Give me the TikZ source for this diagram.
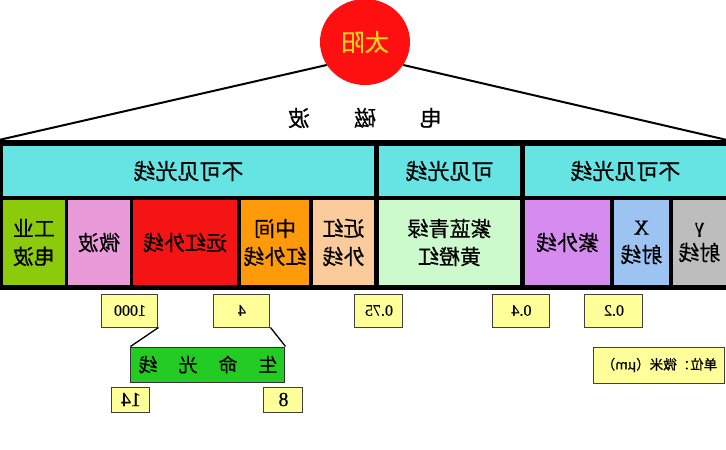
\documentclass[tikz,border=0pt]{standalone}
\usepackage{fontspec}
\newfontfamily\cjk{Noto Sans CJK SC}[FakeBold=0.5]
\newfontfamily\numfont{Liberation Serif}[FakeBold=0.6]
\usetikzlibrary{shapes.geometric}

\definecolor{bandcyan}{HTML}{66E3E3}
\definecolor{graycell}{HTML}{BDBDBD}
\definecolor{xraycell}{HTML}{9CC3F2}
\definecolor{uvcell}{HTML}{D58CEE}
\definecolor{vislight}{HTML}{CCFACC}
\definecolor{nircell}{HTML}{FBCB9B}
\definecolor{mircell}{HTML}{FF9A0A}
\definecolor{fircell}{HTML}{F41414}
\definecolor{microcell}{HTML}{E89BD8}
\definecolor{radiocell}{HTML}{8CCB0A}
\definecolor{valyellow}{HTML}{FFFF99}
\definecolor{lifegreen}{HTML}{22CC22}
\definecolor{sunred}{HTML}{FF1010}
\definecolor{sunyellow}{HTML}{FFD21A}

\begin{document}
\begin{tikzpicture}[x=1pt,y=-1pt,xscale=-1,
  every node/.append style={transform shape,inner sep=0pt,align=center},
  head/.style={fill=bandcyan,minimum height=50,font=\cjk\fontsize{22}{26}\selectfont},
  cell/.style={minimum height=85,font=\cjk\fontsize{21}{28}\selectfont},
  val/.style={draw=black!75,line width=1pt,fill=valyellow,minimum height=33,
    font=\numfont\fontsize{16}{18}\selectfont},
  small/.style={draw=black!75,line width=1pt,fill=valyellow,minimum height=25,
    font=\numfont\fontsize{20}{20}\selectfont}]
\useasboundingbox (0,0) rectangle (726,450);

% sun and the spectrum band
\node[ellipse,fill=sunred,minimum width=90,minimum height=86,
  text=sunyellow,font=\cjk\fontsize{24}{26}\selectfont] (sun) at (361,42) {太阳};
\node[fill=black,minimum width=726,minimum height=150] (band) at (363,215) {};
\draw[line width=2pt] (sun.211) -- (band.north west);
\draw[line width=2pt] (sun.-31) -- (band.north east);
\node[font=\cjk\fontsize{22}{24}\selectfont] (em) at (361,118) {电\hspace{2em}磁\hspace{2em}波};

% top row
\node[head,minimum width=201] (inv1) at (100.5,171) {不可见光线};
\node[head,minimum width=141] (vis) at (276.5,171) {可见光线};
\node[head,minimum width=371] (inv2) at (537.5,171) {不可见光线};

% bottom row
\foreach \nm/\cx/\w/\col/\txt in {
  gamma/26.5/53/graycell/{\numfont γ\\射线},
  xray/84.5/55/xraycell/{\numfont X\\射线},
  uv/158.5/85/uvcell/{紫外线},
  light/276.5/141/vislight/{紫蓝青绿\\黄橙红},
  nir/382.5/61/nircell/{近红\\外线},
  mir/451/68/mircell/{中间\\红外线},
  fir/541/104/fircell/{远红外线},
  micro/627/62/microcell/{微波},
  radio/692/62/radiocell/{工业\\电波}}
  \node[cell,fill=\col,minimum width=\w] (\nm) at (\cx,242.5) {\txt};

% wavelengths
\node[val,minimum width=58] (v02) at (112,310.5) {0.2};
\node[val,minimum width=57] (v04) at (204.5,310.5) {0.4};
\node[val,minimum width=48] (v075) at (347,310.5) {0.75};
\node[val,minimum width=56] (v4) at (484,310.5) {4};
\node[val,minimum width=56] (v1000) at (596,310.5) {1000};

\node[draw=black!80,line width=1pt,fill=lifegreen,minimum width=154,minimum height=35,
  font=\cjk\fontsize{19}{21}\selectfont] (life) at (518,364.5)
  {生\hspace{1.1em}命\hspace{1.1em}光\hspace{1.1em}线};
\draw[line width=1.3pt] (v4.south west) -- (life.north west);
\draw[line width=1.3pt] (v1000.south west) -- (life.north east);
\node[small,minimum width=39] (v8) at (442.5,399.5) {8};
\node[small,minimum width=38] (v14) at (595,399.5) {14};

\node[val,minimum width=131,minimum height=36,font=\cjk\fontsize{13.5}{15}\selectfont]
  (unit) at (66.5,365) {单位：微米（μm）};
\end{tikzpicture}
\end{document}
